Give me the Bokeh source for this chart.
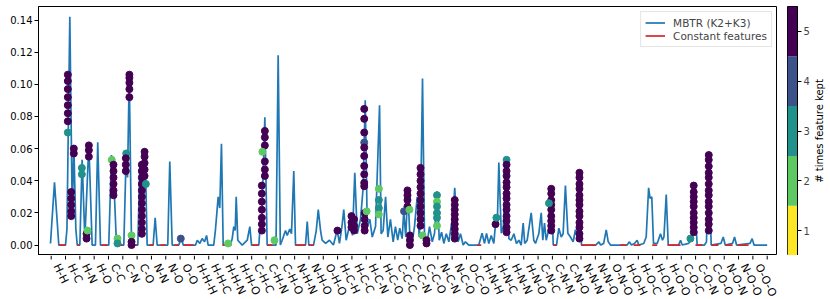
import math
from bokeh.plotting import figure
from bokeh.layouts import row, column
from bokeh.models import (FixedTicker, Range1d, Legend, LegendItem, ColumnDataSource,
                          PrintfTickFormatter, LinearColorMapper)
from bokeh.core.properties import value
from bokeh.embed import file_html
from bokeh.resources import INLINE

term_labels = ["H-H", "H-C", "H-N", "H-O", "C-C", "C-N", "C-O", "N-N", "N-O", "O-O",
               "H-H-H", "H-H-C", "H-H-N", "H-H-O", "C-H-C", "C-H-N", "C-H-O", "N-H-N", "N-H-O", "O-H-O",
               "H-C-H", "H-C-C", "H-C-N", "H-C-O", "C-C-C", "C-C-N", "C-C-O", "N-C-N", "N-C-O", "O-C-O",
               "H-N-H", "H-N-C", "H-N-N", "H-N-O", "C-N-C", "C-N-N", "C-N-O", "N-N-N", "N-N-O", "O-N-O",
               "H-O-H", "H-O-C", "H-O-N", "H-O-O", "C-O-C", "C-O-N", "C-O-O", "N-O-N", "N-O-O", "O-O-O"]
term_start = list(range(len(term_labels)))
term_edges = list(range(len(term_labels) + 1))

# MBTR curve (x in term units, y value)
line_x = [-0.05, 0.23, 0.53, 1.00, 1.10, 1.30, 1.47, 1.58, 1.72, 1.82, 2.00, 2.16, 2.35, 2.63, 2.86,
          3.09, 3.25, 3.44, 4.02, 4.21, 4.35, 4.56, 5.07, 5.24, 5.33, 5.45, 5.61, 6.05, 6.19, 6.35,
          6.56, 6.70, 7.12, 7.26, 7.40, 8.14, 8.28, 8.45, 8.91, 9.08, 9.22, 10.08, 10.20, 10.38, 10.54,
          10.71, 10.85, 10.96, 11.35, 11.47, 11.66, 11.77, 11.89, 12.01, 12.52, 12.64, 12.75, 12.85, 12.92,
          13.03, 13.34, 13.69, 13.87, 13.99, 14.50, 14.57, 14.69, 14.92, 15.08, 15.70, 15.85, 16.00, 16.13,
          16.36, 16.48, 16.66, 16.78, 16.94, 17.06, 17.76, 17.88, 17.99, 18.32, 18.51, 18.65, 18.81, 18.92,
          19.16, 19.43, 19.71, 19.97, 20.13, 20.31, 20.43, 20.60, 20.78, 20.90, 21.04, 21.20, 21.37, 21.60,
          21.78, 21.93, 22.07, 22.25, 22.42, 22.65, 22.93, 23.04, 23.18, 23.35, 23.51, 23.69, 23.88, 24.04,
          24.20, 24.34, 24.51, 24.62, 24.76, 24.90, 25.04, 25.21, 25.37, 25.56, 25.70, 25.79, 25.93, 26.07,
          26.26, 26.42, 26.61, 26.77, 26.96, 27.10, 27.26, 27.42, 27.59, 27.77, 27.93, 28.07, 28.18, 28.30,
          28.42, 28.58, 28.77, 28.93, 29.16, 29.86, 30.09, 30.26, 30.40, 30.56, 30.73, 30.91, 31.03, 31.15,
          31.26, 31.43, 31.57, 31.80, 31.96, 32.12, 32.31, 32.49, 32.66, 32.82, 32.96, 33.07, 33.24, 33.52,
          33.70, 33.82, 34.05, 34.22, 34.33, 34.45, 34.57, 34.73, 34.92, 35.06, 35.29, 35.45, 35.62, 35.75,
          35.91, 36.08, 36.26, 36.45, 36.61, 36.73, 36.89, 37.03, 38.02, 38.25, 38.37, 38.58, 38.76, 38.90,
          39.06, 40.22, 40.38, 40.52, 40.73, 40.92, 41.03, 41.38, 41.55, 41.72, 41.82, 41.94, 42.06, 42.32,
          42.55, 42.69, 42.79, 42.95, 43.09, 43.81, 43.95, 44.07, 44.51, 44.75, 44.87, 45.11, 45.62, 45.76,
          45.92, 46.09, 46.77, 46.93, 47.07, 47.58, 47.72, 47.86, 48.80, 48.95, 49.08, 50.00]
line_y = [0.001, 0.039, 0.0, 0.0, 0.010, 0.142, 0.020, 0.062, 0.010, 0.0, 0.0, 0.053, 0.004, 0.063, 0.0,
          0.0, 0.064, 0.0, 0.0, 0.056, 0.045, 0.0, 0.0, 0.058, 0.042, 0.106, 0.0, 0.0, 0.050, 0.005,
          0.058, 0.0, 0.0, 0.017, 0.0, 0.0, 0.052, 0.0, 0.0, 0.0046, 0.0, 0.0, 0.003, 0.001, 0.004,
          0.002, 0.006, 0.0, 0.0, 0.0094, 0.030, 0.023, 0.063, 0.0, 0.0, 0.004, 0.0115, 0.009, 0.030,
          0.003, 0.0, 0.003, 0.0115, 0.0, 0.0, 0.009, 0.012, 0.0795, 0.0, 0.0, 0.118, 0.0, 0.003,
          0.009, 0.006, 0.010, 0.007, 0.046, 0.0, 0.0, 0.0146, 0.0, 0.0, 0.009, 0.022, 0.009, 0.003,
          0.001, 0.003, 0.0, 0.0094, 0.001, 0.012, 0.022, 0.003, 0.010, 0.017, 0.006, 0.045, 0.007, 0.016,
          0.035, 0.090, 0.0115, 0.016, 0.005, 0.0115, 0.087, 0.007, 0.009, 0.030, 0.005, 0.016, 0.002, 0.0115,
          0.003, 0.0105, 0.004, 0.021, 0.005, 0.0345, 0.007, 0.002, 0.0115, 0.030, 0.005, 0.019, 0.1036, 0.005,
          0.002, 0.0115, 0.002, 0.0073, 0.0335, 0.003, 0.008, 0.001, 0.007, 0.002, 0.0115, 0.020, 0.0356, 0.016,
          0.002, 0.007, 0.0, 0.002, 0.0, 0.0, 0.0073, 0.001, 0.0073, 0.001, 0.006, 0.001, 0.0136, 0.012,
          0.0513, 0.0073, 0.011, 0.0534, 0.004, 0.003, 0.007, 0.001, 0.003, 0.0, 0.0136, 0.001, 0.003, 0.020,
          0.003, 0.001, 0.007, 0.020, 0.003, 0.0136, 0.003, 0.009, 0.0345, 0.0, 0.0, 0.0105, 0.005, 0.007,
          0.037, 0.0073, 0.005, 0.002, 0.0095, 0.005, 0.044, 0.0, 0.0, 0.002, 0.0, 0.001, 0.0094, 0.002,
          0.0, 0.0, 0.002, 0.0, 0.001, 0.003, 0.0, 0.001, 0.005, 0.0356, 0.029, 0.030, 0.001, 0.001,
          0.007, 0.003, 0.005, 0.0314, 0.0, 0.0, 0.003, 0.0, 0.001, 0.004, 0.037, 0.0, 0.0, 0.002,
          0.058, 0.0, 0.001, 0.005, 0.0, 0.001, 0.005, 0.0, 0.001, 0.004, 0.0, 0.0]

# constant (always zero) features, as x intervals
const_start = [0.53, 1.82, 3.51, 4.70, 5.77, 6.86, 7.63, 8.61, 9.27, 11.96, 14.04, 15.08, 17.06, 17.99,
               29.75, 35.06, 37.03, 39.72, 40.67, 41.97, 43.04, 44.99, 46.11, 47.09, 47.93]
const_end = [1.00, 2.00, 3.93, 4.98, 6.00, 7.14, 7.98, 8.89, 9.94, 12.59, 14.50, 15.45, 17.76, 18.32,
             30.03, 35.29, 38.02, 40.17, 41.15, 42.32, 43.95, 45.48, 46.60, 47.58, 48.70]

# features kept by the selection: position, value, number of times kept
kept_x = ([1.16] * 7 + [1.16] + [1.40] * 5 + [1.58] * 2 + [2.14] * 2 + [2.47] * 2 + [2.53] + [2.63] * 3
          + [4.23] + [4.35] * 6 + [4.63, 4.63] + [5.24] + [5.21] * 3 + [5.46] * 5 + [5.61] * 3
          + [6.33] * 12 + [6.52] * 5 + [6.61] + [9.05] + [12.35]
          + [14.92] * 6 + [14.75] + [14.71] * 7 + [15.59] + [19.99]
          + [20.97] * 3 + [21.15] * 3 + [21.86] * 10 + [21.89] * 4 + [22.03] + [22.88] * 4
          + [24.88] * 4 + [24.64] + [25.02] + [25.05] * 3 + [25.79] * 10 + [25.93] + [26.21] * 2
          + [26.94] * 6 + [28.18] * 9 + [31.03] + [31.09] + [31.80] * 14
          + [34.92] * 9 + [34.76] + [36.89] * 13 + [44.64] + [44.87] * 10 + [45.92] * 14)
kept_y = ([0.106, 0.102, 0.097, 0.092, 0.087, 0.082, 0.077] + [0.070]
          + [0.033, 0.029, 0.025, 0.021, 0.018] + [0.060, 0.057] + [0.048, 0.044] + [0.007, 0.004] + [0.009]
          + [0.062, 0.059, 0.055]
          + [0.053] + [0.050, 0.046, 0.042, 0.038, 0.034, 0.031] + [0.004, 0.001] + [0.057]
          + [0.054, 0.050, 0.046] + [0.106, 0.104, 0.101, 0.097, 0.092] + [0.006, 0.002, 0.0]
          + [0.050, 0.046, 0.042, 0.038, 0.034, 0.030, 0.026, 0.022, 0.018, 0.014, 0.010, 0.007]
          + [0.058, 0.055, 0.051, 0.047, 0.043] + [0.038] + [0.004] + [0.001]
          + [0.071, 0.067, 0.062, 0.052, 0.047, 0.043] + [0.058]
          + [0.037, 0.032, 0.027, 0.022, 0.017, 0.013, 0.009] + [0.003] + [0.009]
          + [0.018, 0.014, 0.011] + [0.016, 0.012, 0.009]
          + [0.0847, 0.0785, 0.070, 0.0638, 0.0607, 0.0554, 0.0492, 0.044, 0.0387, 0.0366]
          + [0.020, 0.016, 0.012, 0.009] + [0.021] + [0.035, 0.028, 0.023, 0.019]
          + [0.034, 0.031, 0.028, 0.024] + [0.021] + [0.022] + [0.006, 0.003, 0.0]
          + [0.048, 0.044, 0.040, 0.036, 0.032, 0.028, 0.024, 0.020, 0.016, 0.012] + [0.006] + [0.003, 0.001]
          + [0.031, 0.027, 0.024, 0.020, 0.017, 0.012]
          + [0.028, 0.025, 0.022, 0.019, 0.016, 0.013, 0.010, 0.007, 0.004] + [0.013] + [0.017]
          + [0.053, 0.050, 0.046, 0.043, 0.039, 0.036, 0.032, 0.029, 0.025, 0.022, 0.018, 0.015, 0.011, 0.008]
          + [0.035, 0.032, 0.028, 0.025, 0.022, 0.018, 0.015, 0.012, 0.009] + [0.026]
          + [0.045, 0.042, 0.038, 0.035, 0.031, 0.028, 0.025, 0.021, 0.018, 0.014, 0.011, 0.007, 0.004]
          + [0.004] + [0.037, 0.033, 0.030, 0.027, 0.024, 0.020, 0.017, 0.014, 0.011, 0.008]
          + [0.056, 0.053, 0.049, 0.045, 0.042, 0.038, 0.034, 0.031, 0.027, 0.024, 0.020, 0.016, 0.013, 0.009])
kept_count = ([5] * 7 + [3] + [5] * 5 + [5] * 2 + [3] * 2 + [5] * 2 + [2] + [5] * 3
              + [2] + [5] * 6 + [2, 3] + [3] + [5] * 3 + [5] * 5 + [2, 5, 5]
              + [5] * 12 + [5] * 5 + [3] + [4] + [2]
              + [5] * 6 + [2] + [5] * 7 + [2] + [5]
              + [5] * 3 + [5] * 3 + [5, 5, 5, 4, 5, 5, 5, 5, 5, 5] + [5] * 4 + [2] + [2, 3, 3, 2]
              + [5] * 4 + [4] + [2] + [5] * 3 + [5] * 10 + [2] + [5] * 2
              + [3, 2, 3, 3, 3, 2] + [5] * 9 + [5] + [3] + [3] + [5] * 13
              + [5] * 9 + [3] + [5] * 13 + [3] + [5] * 10 + [5] * 14)

# colour bar levels
cb_levels = [1, 2, 3, 4, 5]
cb_colors = ["#fde725", "#5ec962", "#21918c", "#3b528b", "#440154"]
cb_title = "# times feature kept"

mapper = LinearColorMapper(palette=cb_colors, low=0.5, high=5.5)
FONT = "DejaVu Sans"
FS = "10px"
TOP = 6
H_TOP = 255          # main row height (frame from 6 to 255)
H_LAB = 44           # tick + tick-label strip below
X0, X1 = -0.887, 50.72
LEFT = 38
MAIN_W = 777
PX_PER_UNIT = (MAIN_W - LEFT) / (X1 - X0)

p = figure(width=MAIN_W, height=H_TOP, output_backend="svg", toolbar_location=None,
           x_range=Range1d(X0, X1), y_range=Range1d(-0.0065, 0.1484),
           min_border_left=LEFT, min_border_top=TOP, min_border_right=0, min_border_bottom=0,
           background_fill_color="white", border_fill_color="white")
p.grid.visible = False
p.xaxis.visible = False
p.outline_line_color = "black"
p.outline_line_alpha = 1.0

line_src = ColumnDataSource(dict(x=line_x, y=line_y))
r_line = p.line("x", "y", source=line_src, line_color="#1f77b4", line_width=1.7)

const_src = ColumnDataSource(dict(x0=const_start, x1=const_end,
                                  y0=[0.0] * len(const_start), y1=[0.0] * len(const_start)))
r_const = p.segment("x0", "y0", "x1", "y1", source=const_src, line_color="#d62728", line_width=1.7)

kept_src = ColumnDataSource(dict(x=kept_x, y=kept_y, c=kept_count))
p.scatter("x", "y", source=kept_src, size=7, marker="circle",
          fill_color={"field": "c", "transform": mapper},
          line_color={"field": "c", "transform": mapper})

legend = Legend(items=[LegendItem(label="MBTR (K2+K3)", renderers=[r_line]),
                       LegendItem(label="Constant features", renderers=[r_const])],
                location="top_right", margin=5, padding=4, spacing=0,
                label_text_font=FONT, label_text_font_size="10.5px",
                label_height=13, glyph_height=13, glyph_width=20, label_standoff=8,
                border_line_color="#cccccc", border_line_width=1)
p.add_layout(legend)

p.yaxis.ticker = FixedTicker(ticks=[0.0, 0.02, 0.04, 0.06, 0.08, 0.10, 0.12, 0.14])
p.yaxis.formatter = PrintfTickFormatter(format="%.2f")
p.yaxis.major_label_text_font = FONT
p.yaxis.major_label_text_font_size = FS
p.yaxis.major_label_standoff = 2
p.yaxis.major_label_text_color = "black"
p.yaxis.minor_tick_line_color = None
p.yaxis.major_tick_in = 0
p.yaxis.major_tick_out = 4
p.yaxis.major_tick_line_color = "black"
p.yaxis.axis_line_color = "black"

# colour bar as its own small figure
cbf = figure(width=35, height=H_TOP, output_backend="svg", toolbar_location=None,
             x_range=Range1d(0, 1), y_range=Range1d(0.5, 5.5), y_axis_location="right",
             min_border_left=10, min_border_right=15, min_border_top=TOP, min_border_bottom=0,
             background_fill_color="white", border_fill_color="white")
cbf.grid.visible = False
cbf.xaxis.visible = False
cbf.outline_line_color = "black"
cb_src = ColumnDataSource(dict(b=[v - 0.5 for v in cb_levels], t=[v + 0.5 for v in cb_levels],
                               c=cb_colors))
cbf.quad(left=0, right=1, bottom="b", top="t", fill_color="c", line_color=None, source=cb_src)
cbf.yaxis.ticker = FixedTicker(ticks=cb_levels)
cbf.yaxis.major_label_text_font = FONT
cbf.yaxis.major_label_text_font_size = FS
cbf.yaxis.minor_tick_line_color = None
cbf.yaxis.major_tick_in = 0
cbf.yaxis.major_tick_out = 4
cbf.yaxis.major_label_standoff = 2
cbf.yaxis.axis_line_color = "black"

# colour bar label (reads bottom to top)
lab = figure(width=14, height=H_TOP, output_backend="svg", toolbar_location=None,
             x_range=Range1d(-1, 1), y_range=Range1d(0.5, 5.5),
             min_border_left=0, min_border_right=0, min_border_top=TOP, min_border_bottom=0,
             background_fill_color=None, border_fill_color=None)
lab.axis.visible = False
lab.grid.visible = False
lab.outline_line_color = None
lab.text(x=[0], y=[3], text=[cb_title], angle=math.pi / 2, text_font=value(FONT),
         text_font_size=FS, text_align="center", text_baseline="middle", text_color="black")

# strip below the frame: x ticks at term boundaries and rotated term labels, same x scale
STRIP_W = MAIN_W + 35 + 14
ticks_fig = figure(width=STRIP_W, height=H_LAB, output_backend="svg", toolbar_location=None,
                   x_range=Range1d(X0, X0 + (STRIP_W - LEFT) / PX_PER_UNIT), y_range=Range1d(0, H_LAB),
                   min_border_left=LEFT, min_border_right=0, min_border_top=0, min_border_bottom=0,
                   background_fill_color=None, border_fill_color=None)
ticks_fig.axis.visible = False
ticks_fig.grid.visible = False
ticks_fig.outline_line_color = None
tick_src = ColumnDataSource(dict(x=term_edges, y0=[H_LAB] * len(term_edges),
                                 y1=[H_LAB - 4] * len(term_edges)))
ticks_fig.segment("x", "y0", "x", "y1", source=tick_src, line_color="black", line_width=1)
ANG = math.radians(64)
lab_src = ColumnDataSource(dict(x=term_start, y=[H_LAB - 6] * len(term_start), t=term_labels))
ticks_fig.text("x", "y", text="t", source=lab_src, angle=-ANG, x_offset=11.0, y_offset=0,
               text_font=value(FONT), text_font_size="11px", text_align="left",
               text_baseline="top", text_color="black")

layout = column(row(p, cbf, lab), ticks_fig)
open("out.html", "w").write(file_html(layout, INLINE))
